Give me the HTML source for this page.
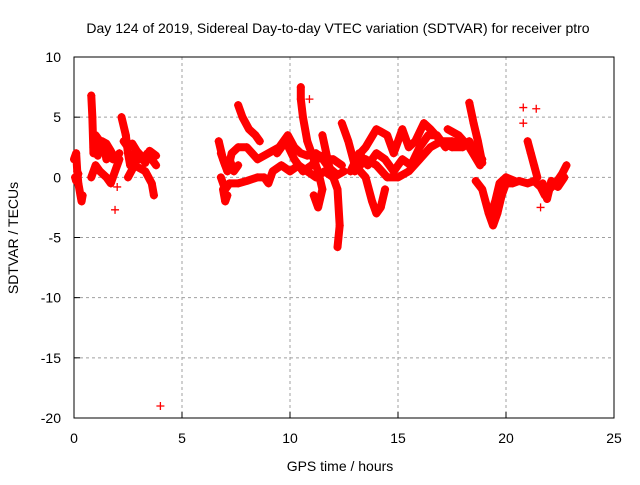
<!DOCTYPE html>
<html><head><meta charset="utf-8"><style>
body{margin:0;background:#fff}
svg text{font-family:"Liberation Sans",sans-serif;font-size:14px;fill:#000}
</style></head><body>
<svg id="chart" width="640" height="480" viewBox="0 0 640 480">
<rect width="640" height="480" fill="#fff"/>
<text x="338" y="33" text-anchor="middle">Day 124 of 2019, Sidereal Day-to-day VTEC variation (SDTVAR) for receiver ptro</text>
<g id="grid"></g>
<g id="axes"></g>
<g id="marks"></g>
<text x="340" y="471" text-anchor="middle">GPS time / hours</text>
<text x="18" y="238" text-anchor="middle" transform="rotate(-90 18 238)">SDTVAR / TECUs</text>
</svg>
<script>
const xTicks=[0,5,10,15,20,25];
const yTicks=[10,5,0,-5,-10,-15,-20];
const trackA=[[0,1.5],[0.1,2],[0.15,0.5],[0.2,-0.5],[0.3,-1.5],[0.35,-2],[0.4,-1.5]];
const trackB=[[0.05,0],[0.1,-0.3],[0.2,0.3]];
const trackC=[[0.8,6.8],[0.85,5],[0.9,2],[1.0,3.5],[1.2,3],[1.4,2.5],[1.5,1.5],[1.6,2],[1.8,1.5]];
const trackC2=[[0.9,2.5],[1.1,1.8],[1.3,3],[1.5,2.8],[1.7,2.2],[1.9,1.5],[2.1,2]];
const trackD=[[0.8,0],[1.0,1],[1.2,0.5],[1.5,0],[1.7,-0.5],[1.9,0.5],[2.1,1.5]];
const trackE=[[2.2,5],[2.4,3.5],[2.5,2],[2.6,1],[2.8,2],[3.0,1.5],[3.2,1.5],[3.4,2],[3.6,1.5],[3.8,1]];
const trackE2=[[2.3,3],[2.5,2.5],[2.7,2.8],[2.9,2.2],[3.1,1.8],[3.3,1.2],[3.5,2.2],[3.8,1.8]];
const trackF=[[2.5,0],[2.8,1],[3.3,0.5],[3.6,-0.5],[3.7,-1.5]];
const trackG=[[6.7,3],[6.9,1.5],[7.1,0.5],[7.3,2],[7.6,2.5],[8.0,2.5],[8.5,1.5],[9.0,2],[9.5,2.5],[9.9,3.5],[10.2,2.5],[10.5,2],[10.8,1.8],[11.2,2],[11.6,1.5],[12,1.5],[12.4,1]];
const trackG2=[[6.8,2],[7.0,1],[7.2,1.5],[7.4,0.5],[7.6,1]];
const trackH=[[6.8,0],[7.0,-1],[7.2,-0.5],[7.6,-0.5],[8.0,-0.3],[8.5,0],[8.8,0],[9.0,-0.5],[9.2,0.5],[9.6,1],[10,0.5],[10.4,1],[10.8,0.5],[11.2,0],[11.6,0.5],[12,0],[12.5,0.5]];
const trackH2=[[9.4,2],[9.8,3],[10.2,1.5],[10.6,0.5],[11,1],[11.4,1.8],[11.8,0.8],[12.2,0.2]];
const trackI=[[6.9,-1],[7.0,-2],[7.1,-1.5]];
const trackJ=[[7.6,6],[7.8,5],[8.1,4],[8.4,3.5],[8.6,3]];
const trackK=[[10.5,7.5],[10.5,6.5],[10.6,5],[10.8,3],[11,2],[11.3,0.5],[11.5,-1],[11.3,-2.5],[11.1,-1.5]];
const trackL=[[11.5,3.5],[11.8,1],[12,0],[12.2,-1],[12.3,-4],[12.2,-5.8]];
const trackM=[[12.4,4.5],[12.7,3],[13,1],[13.5,0],[13.8,-2],[14,-3],[14.2,-2.5],[14.4,-1]];
const trackN=[[13,1.5],[13.5,2.5],[14,4],[14.5,3.5],[14.8,2],[15,3],[15.2,4],[15.5,2.5],[15.8,3],[16.2,4.5],[16.5,4],[17,3],[17.5,2.5],[18,2.5],[18.3,3],[18.6,2],[18.9,1.5]];
const trackN2=[[12.8,0.5],[13.2,2],[13.6,1],[14,2],[14.4,1.5],[14.8,0.5],[15.2,1.5],[15.6,1],[16,2.5],[16.4,3.5],[16.8,3.5],[17.2,2.5]];
const trackO=[[13,0.5],[13.5,1.5],[14,1],[14.5,0],[15,0],[15.5,0.5],[16,1.5],[16.5,2.5],[17,3],[17.5,3],[18,2.8]];
const trackP=[[18.3,6.2],[18.5,4.5],[18.7,3],[18.9,1.2]];
const trackQ=[[17.3,4],[17.8,3.5],[18.3,2.5],[18.8,1]];
const trackR=[[18.6,-0.3],[18.9,-1],[19.2,-3],[19.4,-4],[19.6,-3],[19.8,-1.5],[20,-0.5],[20.3,-0.5],[20.6,-0.3],[21,-0.5],[21.3,-0.3],[21.6,-0.8],[21.8,-1.5],[22,-1],[22.3,-0.5],[22.6,0.3],[22.8,1]];
const trackR2=[[19.3,-3],[19.5,-2],[19.7,-0.5],[20,0],[20.4,-0.3]];
const trackR3=[[21.7,-0.5],[21.9,-1.8],[22.1,-0.3],[22.4,-0.8],[22.7,0]];
const trackS=[[21.0,3],[21.15,2],[21.3,1],[21.45,0]];
const outliers=[[1.9,-2.7],[4,-19],[2.0,-0.8],[20.8,5.8],[20.8,4.5],[21.4,5.7],[21.6,-2.5],[10.9,6.5]];
const tracks=[trackA,trackB,trackC,trackC2,trackD,trackE,trackE2,trackF,trackG,trackG2,trackH,trackH2,trackI,trackJ,trackK,trackL,trackM,trackN,trackN2,trackO,trackP,trackQ,trackR,trackR2,trackR3,trackS];

const X0=74,X1=614,Y0=57,Y1=418;
function xs(t){return X0+(t-0)/(25-0)*(X1-X0);}
function ys(v){return Y0+(10-v)/(10-(-20))*(Y1-Y0);}
const NS="http://www.w3.org/2000/svg";
function mk(tag,attrs,parent){const e=document.createElementNS(NS,tag);for(const k in attrs)e.setAttribute(k,attrs[k]);parent.appendChild(e);return e;}
const grid=document.getElementById('grid'),axes=document.getElementById('axes'),marks=document.getElementById('marks');
xTicks.forEach(t=>{
  if(t>0&&t<25){const g=mk('line',{x1:xs(t),x2:xs(t),y1:Y0,y2:Y1,stroke:'#a0a0a0','stroke-dasharray':'3,3'},grid);
  
  }
  const tk=mk('line',{x1:xs(t),x2:xs(t),y1:Y1,y2:Y1-6,stroke:'#000'},axes);
  
  
  const lb=mk('text',{x:xs(t),y:Y1+25,'text-anchor':'middle'},axes);lb.textContent=t;
  
  
});
yTicks.forEach(v=>{
  if(v<10&&v>-20){const g=mk('line',{x1:X0,x2:X1,y1:ys(v),y2:ys(v),stroke:'#a0a0a0','stroke-dasharray':'3,3'},grid);
  
  }
  const tk=mk('line',{x1:X0,x2:X0+6,y1:ys(v),y2:ys(v),stroke:'#000'},axes);
  
  
  const lb=mk('text',{x:X0-13,y:ys(v)+5,'text-anchor':'end'},axes);lb.textContent=v;
  
  
});
const fr=mk('rect',{x:X0,y:Y0,width:X1-X0,height:Y1-Y0,fill:'none',stroke:'#000'},axes);


function plus(t,v){const x=xs(t),y=ys(v);const p=mk('path',{d:`M${x-4},${y}h8M${x},${y-4}v8`,stroke:'#f00','stroke-width':1.3},marks);
  
  }
tracks.forEach(tr=>{
  const pl=mk('polyline',{points:tr.map(p=>xs(p[0])+','+ys(p[1])).join(' '),fill:'none',stroke:'#f00','stroke-width':8,'stroke-linejoin':'round','stroke-linecap':'round'},marks);
  
  
  tr.forEach(p=>plus(p[0],p[1]));
});
outliers.forEach(p=>plus(p[0],p[1]));
</script>
</body></html>
